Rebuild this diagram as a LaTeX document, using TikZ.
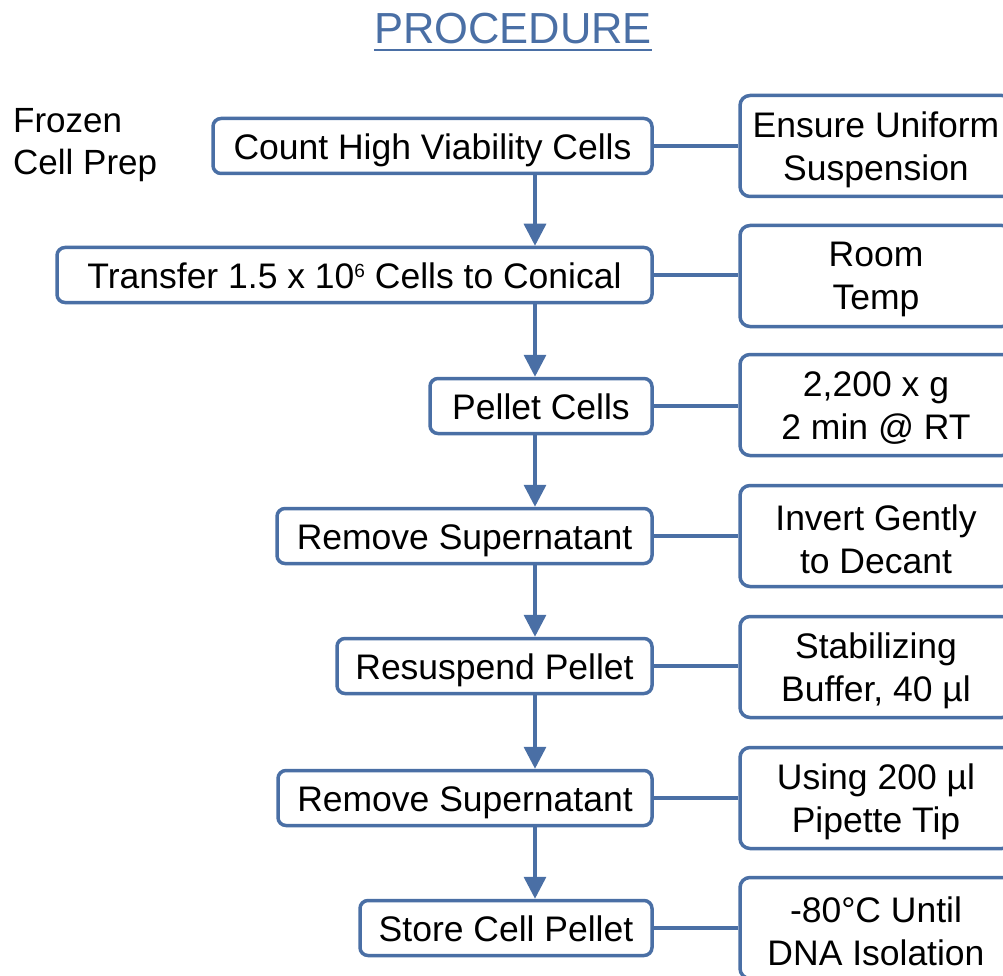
\documentclass[tikz,border=0pt]{standalone}
\usepackage{fontspec}
\setmainfont{Liberation Sans}
\usetikzlibrary{arrows.meta}
\definecolor{pblue}{HTML}{4A6FA5}
\tikzset{
  stepbox/.style={draw=pblue, line width=3.5pt, rounded corners=8pt, minimum height=55pt, inner sep=0pt, text height=27pt, text depth=0pt, font=\fontsize{35.5}{43}\selectfont, text=black},
  notebox/.style={draw=pblue, line width=3.5pt, rounded corners=10pt, minimum width=272pt, minimum height=101pt, inner sep=0pt},
  notetext/.style={inner sep=0pt, align=center, yshift=-3.5pt, font=\fontsize{35.5}{43}\selectfont, text=black},
  flow/.style={draw=pblue, line width=3.5pt, -{Triangle[width=22pt,length=22pt]}},
  link/.style={draw=pblue, line width=3.5pt}
}
\newcommand{\mysup}[1]{\raisebox{11pt}{\fontsize{19}{19}\selectfont #1}}
\begin{document}
\begin{tikzpicture}[x=1pt,y=-1pt]
\useasboundingbox (0,0) rectangle (1003,976);
\clip (0,0) rectangle (1003,976);
% title
\node[font=\fontsize{43.5}{50}\selectfont, text=pblue, inner sep=0pt] (title) at (513,29) {PROCEDURE};
\draw[pblue, line width=2pt] (title.south west |- 0,50) -- (title.south east |- 0,50);
\node[anchor=north west, align=left, inner sep=0pt, font=\fontsize{35}{42}\selectfont] (frozen) at (13,108) {Frozen\\Cell Prep};
% steps
\node[stepbox, minimum width=439pt] (s1) at (432.5,146) {Count High Viability Cells};
\node[stepbox, minimum width=595pt] (s2) at (354.5,275) {Transfer 1.5 x 10\mysup{6} Cells to Conical};
\node[stepbox, minimum width=222pt] (s3) at (541,406) {Pellet Cells};
\node[stepbox, minimum width=375pt] (s4) at (464.5,536) {Remove Supernatant};
\node[stepbox, minimum width=315pt] (s5) at (494.5,666) {Resuspend Pellet};
\node[stepbox, minimum width=374pt] (s6) at (465,798) {Remove Supernatant};
\node[stepbox, minimum width=292pt] (s7) at (506,928) {Store Cell Pellet};
% notes
\node[notebox] (n1) at (876,146) {};
\node[notebox] (n2) at (876,276) {};
\node[notebox] (n3) at (876,405) {};
\node[notebox] (n4) at (876,536) {};
\node[notebox] (n5) at (876,667) {};
\node[notebox] (n6) at (876,798) {};
\node[notebox] (n7) at (876,928) {};
\node[notetext] (t1) at (n1.center) {Ensure Uniform\\Suspension};
\node[notetext] (t2) at (n2.center) {Room\\Temp};
\node[notetext] (t3) at (n3.center) {2,200 x g\\2 min @ RT};
\node[notetext] (t4) at (n4.center) {Invert Gently\\to Decant};
\node[notetext] (t5) at (n5.center) {Stabilizing\\Buffer, 40 µl};
\node[notetext] (t6) at (n6.center) {Using 200 µl\\Pipette Tip};
\node[notetext] (t7) at (n7.center) {-80°C Until\\DNA Isolation};
% arrows
\coordinate (ax) at (535,0);
\foreach \a/\b in {s1/s2,s2/s3,s3/s4,s4/s5,s5/s6,s6/s7}{
  \draw[flow] (\a.south -| ax) -- (\b.north -| ax);
}
\foreach \i in {1,...,7}{
  \draw[link] (s\i.east) -- (s\i.east -| n\i.west);
}
\end{tikzpicture}
\end{document}
